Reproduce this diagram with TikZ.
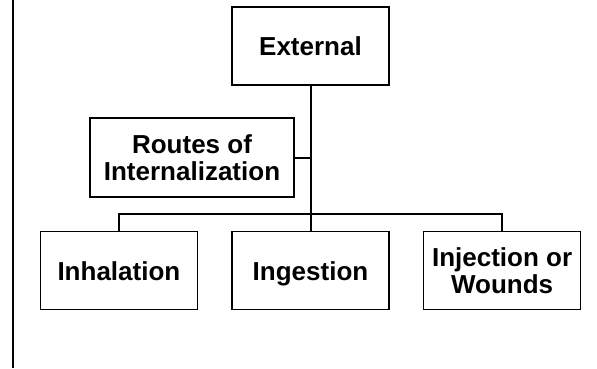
\documentclass[tikz,border=0pt]{standalone}
\usepackage{fontspec}
\setmainfont{Liberation Sans}
\usetikzlibrary{positioning, calc}

\begin{document}
\begin{tikzpicture}[
        x=1pt, y=-1pt,
        node distance=33pt,
        box/.style={rectangle, draw=black, line width=1.6pt, fill=white, minimum width=157pt, minimum height=78pt, align=center, inner sep=2pt, text depth=0pt, font=\fontsize{26}{27.5}\selectfont\bfseries},
        routebox/.style={box, minimum width=204pt, minimum height=79pt},
        link/.style={draw=black, line width=2pt}
    ]
        \useasboundingbox (0,0) rectangle (597,368);
        \node[box] (external) at (310.5,46) {External};
        \node[routebox] (routes) at (192,157.5) {Routes of\\Internalization};
        \node[box, below=145pt of external] (ingestion) {Ingestion};
        \node[box, left=of ingestion] (inhalation) {Inhalation};
        \node[box, right=of ingestion] (injection) {Injection or\\Wounds};

        \coordinate (bar) at (0,214);
        \coordinate (ruletop) at (13,0);
        \coordinate (rulebottom) at (13,368);

        \draw[link] (external.south) -- (ingestion.north);
        \draw[link] (routes.east) -- (routes.east -| external.south);
        \draw[link] (inhalation.north) |- (bar -| ingestion.north) -| (injection.north);
        \draw[black, line width=2.7pt] (ruletop) -- (rulebottom);
    \end{tikzpicture}
\end{document}
